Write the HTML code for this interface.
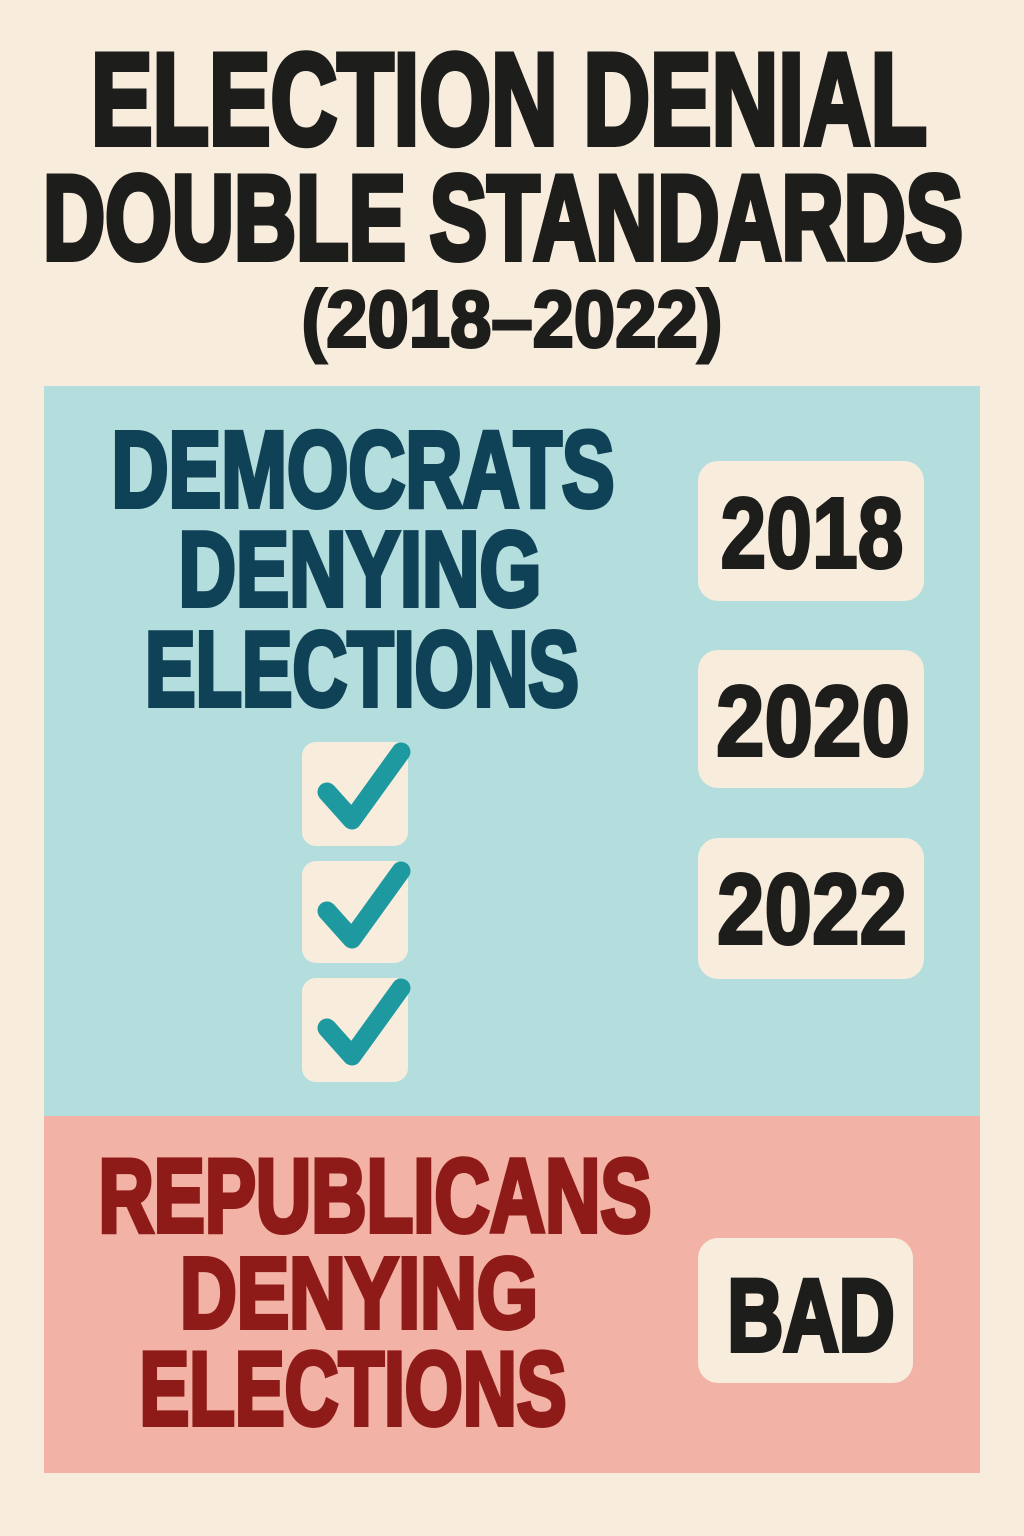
<!DOCTYPE html>
<html>
<head>
<meta charset="utf-8">
<style>
html,body{margin:0;padding:0;background:#f8eddd;}
svg{display:block;}
text{font-family:"Liberation Sans", "DejaVu Sans", sans-serif;font-weight:bold;stroke-linejoin:miter;}
</style>
</head>
<body>
<svg width="1024" height="1536" viewBox="0 0 1024 1536" xmlns="http://www.w3.org/2000/svg">
  <rect x="0" y="0" width="1024" height="1536" fill="#f8eddd"/>

  <!-- Title -->
  <g fill="#1d1d1b" stroke="#1d1d1b">
    <text x="509" y="144" font-size="130" stroke-width="6" text-anchor="middle" textLength="836" lengthAdjust="spacingAndGlyphs">ELECTION DENIAL</text>
    <text x="503" y="259" font-size="120" stroke-width="6" text-anchor="middle" textLength="920" lengthAdjust="spacingAndGlyphs">DOUBLE STANDARDS</text>
    <text x="512" y="346.5" font-size="80" stroke-width="3" text-anchor="middle" textLength="421" lengthAdjust="spacingAndGlyphs">(2018–2022)</text>
  </g>

  <!-- Panels -->
  <rect x="44" y="386" width="936" height="730" fill="#b4dedd"/>
  <rect x="44" y="1116" width="936" height="357" fill="#f2b3a6"/>

  <!-- Democrats heading -->
  <g fill="#0f4257" stroke="#0f4257" stroke-width="5">
    <text x="363" y="506.5" font-size="107.5" text-anchor="middle" textLength="503" lengthAdjust="spacingAndGlyphs">DEMOCRATS</text>
    <text x="360" y="605.5" font-size="106" text-anchor="middle" textLength="363" lengthAdjust="spacingAndGlyphs">DENYING</text>
    <text x="362" y="705.5" font-size="106" text-anchor="middle" textLength="434" lengthAdjust="spacingAndGlyphs">ELECTIONS</text>
  </g>

  <!-- Checkboxes -->
  <g>
    <rect x="302" y="742" width="106" height="104" rx="14" fill="#f8eddd"/>
    <rect x="302" y="861" width="106" height="102" rx="14" fill="#f8eddd"/>
    <rect x="302" y="978" width="106" height="104" rx="14" fill="#f8eddd"/>
    <g fill="none" stroke="#1e99a0" stroke-width="19" stroke-linecap="round" stroke-linejoin="round">
      <polyline points="327,792 352,820 401,752"/>
      <polyline points="327,911 352,939 401,871"/>
      <polyline points="327,1028 352,1056 401,988"/>
    </g>
  </g>

  <!-- Year boxes -->
  <rect x="698" y="461" width="226" height="140" rx="20" fill="#f8eddd"/>
  <rect x="698" y="650" width="226" height="138" rx="20" fill="#f8eddd"/>
  <rect x="698" y="838" width="226" height="141" rx="20" fill="#f8eddd"/>
  <g fill="#1d1d1b" stroke="#1d1d1b" stroke-width="3">
    <text x="812" y="567.5" font-size="100.5" text-anchor="middle" textLength="183" lengthAdjust="spacingAndGlyphs">2018</text>
    <text x="813" y="755.5" font-size="100.5" text-anchor="middle" textLength="194" lengthAdjust="spacingAndGlyphs">2020</text>
    <text x="812" y="943.5" font-size="100.5" text-anchor="middle" textLength="190" lengthAdjust="spacingAndGlyphs">2022</text>
  </g>

  <!-- Republicans heading -->
  <g fill="#8e1b18" stroke="#8e1b18" stroke-width="5">
    <text x="375" y="1231.5" font-size="103.5" text-anchor="middle" textLength="553" lengthAdjust="spacingAndGlyphs">REPUBLICANS</text>
    <text x="359" y="1327.5" font-size="100.5" text-anchor="middle" textLength="358" lengthAdjust="spacingAndGlyphs">DENYING</text>
    <text x="353" y="1424.5" font-size="103.5" text-anchor="middle" textLength="427" lengthAdjust="spacingAndGlyphs">ELECTIONS</text>
  </g>

  <!-- BAD box -->
  <rect x="698" y="1238" width="215" height="145" rx="20" fill="#f8eddd"/>
  <text x="811" y="1350.5" font-size="102" text-anchor="middle" fill="#1d1d1b" stroke="#1d1d1b" stroke-width="5" textLength="167" lengthAdjust="spacingAndGlyphs">BAD</text>
</svg>
</body>
</html>
